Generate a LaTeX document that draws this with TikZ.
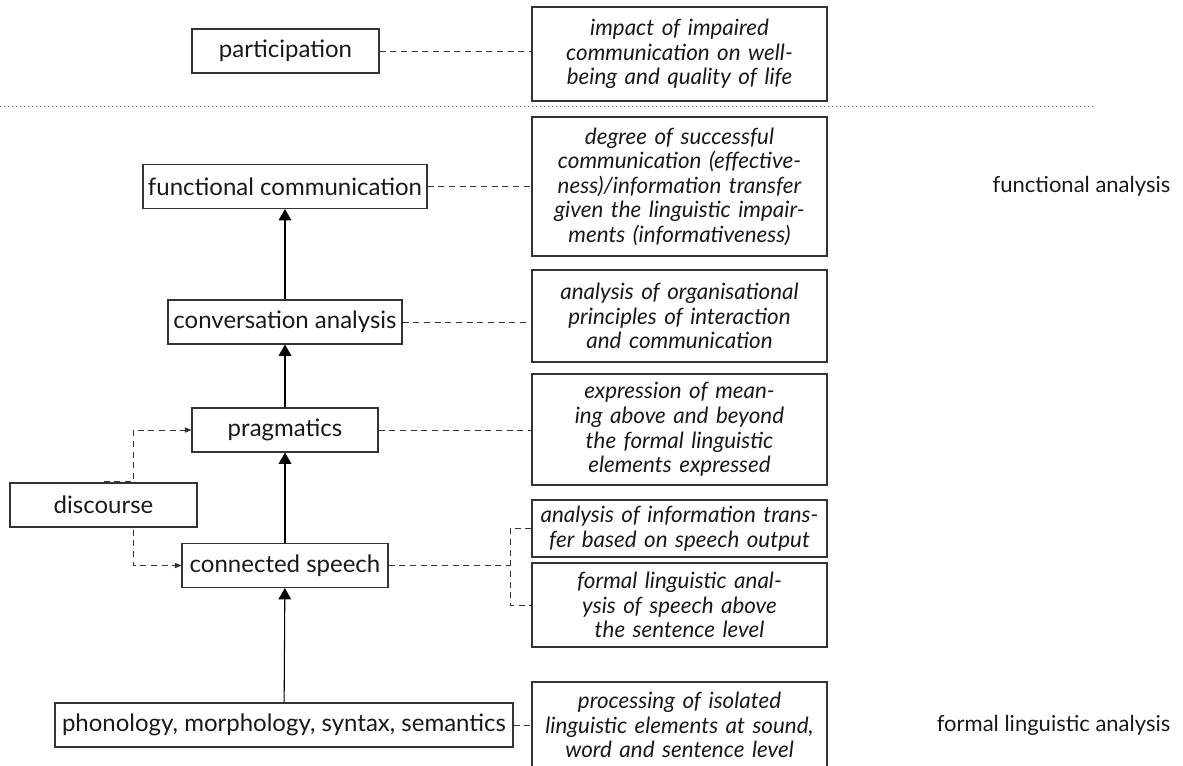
\documentclass[tikz,border=0pt]{standalone}
\usepackage{fontspec}
\setmainfont{Lato}
\usetikzlibrary{arrows.meta}
\begin{document}
\begin{tikzpicture}[x=0.75pt,y=-0.75pt,
  lbox/.style={draw=black!80, line width=0.8pt, minimum height=33pt, inner sep=0pt, text=black!90,
    font=\fontsize{18}{21}\selectfont},
  rbox/.style={draw=black!80, line width=0.8pt, text width=221.25pt, align=center, inner sep=0pt, text=black!90,
    font=\fontsize{16.8}{18.4}\selectfont\itshape},
  side/.style={anchor=east, text=black!90, font=\fontsize{16.5}{19}\selectfont},
  conn/.style={draw=black!80, line width=0.6pt, dash pattern=on 4.5pt off 3.5pt},
  dconn/.style={conn, -{Triangle[width=4pt,length=5pt]}},
  up/.style={draw=black, line width=0.8pt, -{Triangle[width=9.5pt,length=8.5pt]}},
  sep/.style={draw=black!60, line width=0.7pt, dash pattern=on 0.7pt off 2.3pt}
  ]
\useasboundingbox (0,0) rectangle (1183,765);
\clip (0,0) rectangle (1183,765);

% left column
\node[lbox, minimum width=140.25pt] (part) at (285.5,51) {participation};
\node[lbox, minimum width=213pt] (fc) at (285,186.5) {functional communication};
\node[lbox, minimum width=175.5pt] (ca) at (285,322) {conversation analysis};
\node[lbox, minimum width=139.5pt] (prag) at (285,430) {pragmatics};
\node[lbox, minimum width=154.5pt] (cs) at (285,565.5) {connected speech};
\node[lbox, minimum width=343.5pt] (phon) at (284,725) {phonology, morphology, syntax, semantics};
\node[lbox, minimum width=140.25pt] (disc) at (103.5,505) {discourse};

% right column
\node[rbox, minimum height=70.5pt] (impact) at (679.5,54) {impact of impaired\\communication on well-\\being and quality of life};
\node[rbox, minimum height=104.25pt] (degree) at (679.5,186.5) {degree of successful\\communication (effective-\\ness)/information transfer\\given the linguistic impair-\\ments (informativeness)};
\node[rbox, minimum height=69pt] (org) at (679.5,316) {analysis of organisational\\principles of interaction\\and communication};
\node[rbox, minimum height=83.25pt] (expr) at (679.5,429.5) {expression of mean-\\ing above and beyond\\the formal linguistic\\elements expressed};
\node[rbox, minimum height=42.75pt] (info) at (679.5,528.5) {analysis of information trans-\\fer based on speech output};
\node[rbox, minimum height=63pt] (formal) at (679.5,605) {formal linguistic anal-\\ysis of speech above\\the sentence level};
\node[rbox, minimum height=64.5pt] (proc) at (679.5,725) {processing of isolated\\linguistic elements at sound,\\word and sentence level};

% side labels
\node[side] (fa) at (1175,186) {functional analysis};
\node[side] (fla) at (1175,725) {formal linguistic analysis};

% separator
\coordinate (s0) at (0,106);
\coordinate (s1) at (1095,106);
\draw[sep] (s0) -- (s1);

% upward arrows
\draw[up] (phon) -- (cs);
\draw[up] (cs) -- (prag);
\draw[up] (prag) -- (ca);
\draw[up] (ca) -- (fc);

% dashed links to descriptions
\draw[conn] (part.east) -- (part.east -| impact.west);
\draw[conn] (fc.east) -- (fc.east -| degree.west);
\draw[conn] (ca.east) -- (ca.east -| org.west);
\draw[conn] (prag.east) -- (prag.east -| expr.west);
\draw[conn] (phon.east) -- (phon.east -| proc.west);
\coordinate (sx) at (510,0);
\draw[conn] (cs.east) -- (cs.east -| sx);
\draw[conn] (info.west) -| (sx |- formal.west) -- (formal.west);

% discourse links
\draw[dconn] ([yshift=1pt]disc.north) -- ++(30,0) |- (prag.west);
\draw[dconn] (disc.south) -- ++(30,0) |- (cs.west);
\end{tikzpicture}
\end{document}
